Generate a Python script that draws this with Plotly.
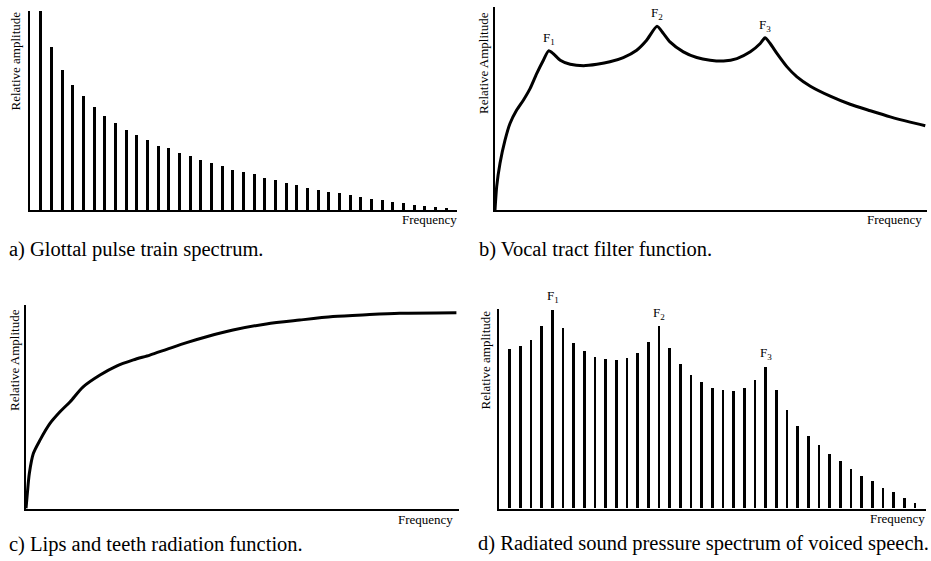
import plotly.graph_objects as go

# ---- data -------------------------------------------------------------
harmonics = list(range(1, 40))

# a) glottal pulse train spectrum (relative amplitude, %)
glottal_amp = [100, 81.9, 70.6, 62.9, 57.2, 51.8, 47.2, 43.8, 40.5, 37.8,
               35.1, 32.4, 31.4, 28.8, 27.4, 25.1, 23.7, 22.1, 20.4, 19.2,
               18.1, 16.4, 15.4, 13.9, 13.0, 11.4, 10.5, 9.5, 8.7, 8.0,
               6.7, 6.0, 5.2, 4.5, 3.8, 2.8, 2.5, 1.8, 1.3]

# b) vocal tract filter function
tract_freq = [0, 0.39, 1.16, 2.32, 3.47, 5.02, 6.56, 8.11, 9.65, 11.2,
              12.4, 13.5, 15.1, 17.4, 20.5, 23.6, 26.6, 29.7, 32.8, 35.1,
              37.5, 39.0, 40.5, 43.6, 46.7, 49.8, 52.9, 56.0, 59.1, 61.4,
              62.5, 63.7, 65.3, 67.6, 69.9, 73.0, 77.6, 82.2, 86.9, 91.5,
              96.1, 99.6]
tract_amp = [0, 11.5, 23.0, 34.4, 42.6, 49.2, 54.1, 59.8, 67.2, 73.8,
             78.4, 77.0, 73.8, 71.8, 71.1, 71.8, 73.0, 75.1, 78.7, 83.6,
             90.5, 86.9, 82.8, 77.9, 75.1, 73.8, 73.4, 74.6, 77.9, 82.0,
             84.8, 82.0, 77.0, 70.5, 65.6, 61.0, 56.1, 52.1, 48.9, 45.9,
             43.3, 41.5]
formant_freq = [12.4, 37.5, 62.5]
formant_amp = [78.4, 90.5, 84.8]

# c) lips and teeth radiation function
radiation_freq = [0, 0.31, 0.77, 1.69, 3.23, 5.54, 7.85, 10.2, 13.2, 17.1,
                  20.9, 24.8, 28.6, 32.5, 37.1, 41.7, 47.8, 55.5, 63.2, 70.9,
                  78.6, 86.3, 99.4]
radiation_amp = [0, 7.4, 17.2, 27.0, 33.6, 41.8, 47.5, 52.5, 59.8, 65.6,
                 70.0, 73.0, 75.4, 78.2, 81.5, 84.4, 87.7, 90.7, 92.6, 94.3,
                 95.2, 95.9, 96.2]

# d) radiated sound pressure spectrum of voiced speech
speech_amp = [79.9, 81.6, 84.6, 91.3, 99.7, 90.5, 82.9, 78.9, 76.0, 74.7,
              74.2, 75.2, 78.1, 83.2, 91.3, 80.6, 72.4, 66.7, 63.3, 60.3,
              59.1, 59.0, 60.3, 64.5, 71.0, 59.1, 49.4, 41.4, 36.0, 31.7,
              27.3, 23.5, 19.8, 16.2, 13.7, 10.1, 8.0, 5.2, 2.8]
speech_formant_harm = [5, 15, 25]

formant_labels = ["F<sub>1</sub>", "F<sub>2</sub>", "F<sub>3</sub>"]
captions = ["a) Glottal pulse train spectrum.",
            "b) Vocal tract filter function.",
            "c) Lips and teeth radiation function.",
            "d) Radiated sound pressure spectrum of voiced speech."]
y_titles = ["Relative amplitude", "Relative Amplitude",
            "Relative Amplitude", "Relative amplitude"]

# ---- figure ----------------------------------------------------------
W, H = 931, 561
SERIF = "Liberation Serif, Times New Roman, serif"


def px(x):
    return x / W


def py(y):
    return 1 - y / H


fig = go.Figure()

fig.add_trace(go.Bar(x=harmonics, y=glottal_amp, width=0.28,
                     marker=dict(color="black", line=dict(width=0)),
                     xaxis="x", yaxis="y"))
fig.add_trace(go.Scatter(x=tract_freq, y=tract_amp, mode="lines",
                         line=dict(color="black", width=3, shape="spline",
                                   smoothing=0.6),
                         xaxis="x2", yaxis="y2"))
fig.add_trace(go.Scatter(x=radiation_freq, y=radiation_amp, mode="lines",
                         line=dict(color="black", width=3, shape="spline",
                                   smoothing=0.8),
                         xaxis="x3", yaxis="y3"))
fig.add_trace(go.Bar(x=harmonics, y=speech_amp, width=0.26,
                     marker=dict(color="black", line=dict(width=0)),
                     xaxis="x4", yaxis="y4"))

# panel boxes in pixels: (left, right, top, bottom)
panels = [(30, 457, 10.5, 210), (495, 927, 7, 210),
          (26, 459, 305, 508.5), (499.3, 926, 309.3, 508.5)]
x_ranges = [[0, 40], [0, 100], [0, 100], [0, 40]]

axis_common = dict(showgrid=False, zeroline=False, showticklabels=False,
                   ticks="", showline=True, linecolor="black")
for i, (l, r, t, b) in enumerate(panels):
    sfx = "" if i == 0 else str(i + 1)
    fig.layout["xaxis" + sfx] = dict(
        axis_common, domain=[px(l), px(r)], range=x_ranges[i],
        linewidth=2.2, anchor="y" + sfx, fixedrange=True)
    fig.layout["yaxis" + sfx] = dict(
        axis_common, domain=[py(b), py(t)], range=[0, 100],
        linewidth=1.5, anchor="x" + sfx, fixedrange=True)

ann = []
# y-axis titles (rotated, aligned with top of each axis)
ytitle_pos = [(15, 10), (483, 10), (14, 307), (485, 308)]
for (x, y), txt in zip(ytitle_pos, y_titles):
    ann.append(dict(x=px(x), y=py(y), xref="paper", yref="paper",
                    text=txt, textangle=-90, showarrow=False,
                    xanchor="center", yanchor="top",
                    font=dict(family=SERIF, size=13, color="black")))
# "Frequency" labels
freq_pos = [(459, 220), (924, 220), (455, 519), (927, 518)]
for x, y in freq_pos:
    ann.append(dict(x=px(x), y=py(y), xref="paper", yref="paper",
                    text="Frequency", showarrow=False,
                    xanchor="right", yanchor="middle",
                    font=dict(family=SERIF, size=13, color="black")))
# captions
cap_pos = [(7, 250), (477, 250), (7, 544), (476, 543)]
for (x, y), txt in zip(cap_pos, captions):
    ann.append(dict(x=px(x), y=py(y), xref="paper", yref="paper",
                    text=txt, showarrow=False,
                    xanchor="left", yanchor="middle",
                    font=dict(family=SERIF, size=20.5, color="black")))
# formant labels on the filter curve
for fx, fy, lab in zip(formant_freq, formant_amp, formant_labels):
    ann.append(dict(x=fx, y=fy, xref="x2", yref="y2", text=lab,
                    showarrow=False, xanchor="center", yanchor="bottom",
                    yshift=2,
                    font=dict(family=SERIF, size=13, color="black")))
# formant labels on the speech spectrum
for h, lab in zip(speech_formant_harm, formant_labels):
    ann.append(dict(x=h, y=speech_amp[h - 1], xref="x4", yref="y4",
                    text=lab, showarrow=False, xanchor="center",
                    yanchor="bottom", yshift=3,
                    font=dict(family=SERIF, size=13, color="black")))

fig.update_layout(width=W, height=H, margin=dict(l=0, r=0, t=0, b=0),
                  paper_bgcolor="white", plot_bgcolor="white",
                  font=dict(family=SERIF, size=13, color="black"),
                  showlegend=False, annotations=ann, bargap=0)

fig.write_html("out.html", config={"displayModeBar": False})
